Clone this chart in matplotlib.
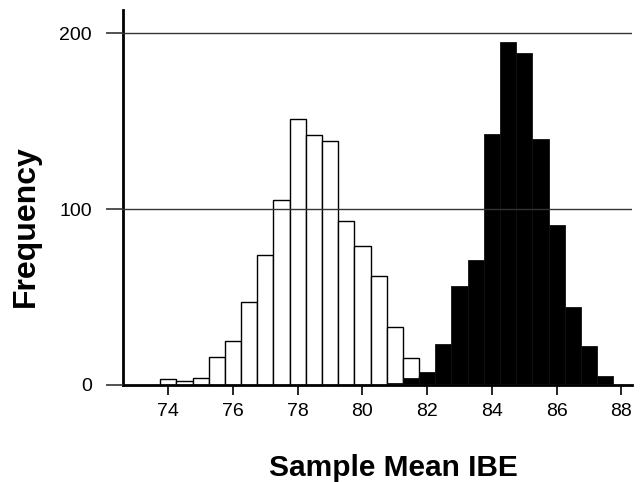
import numpy as np
import matplotlib.pyplot as plt

plt.rcParams['font.family'] = ['Liberation Sans', 'DejaVu Sans']

# histogram bins: left edges, width 0.5
bin_left = np.arange(73.75, 88.25, 0.5)
bin_width = 0.5

# open histogram (first sample)
white_counts = [3, 2, 4, 16, 25, 47, 74, 105, 151, 142, 139, 93, 79, 62, 33, 15, 5,
                0, 0, 0, 0, 0, 0, 0, 0, 0, 0, 0, 0]
# filled histogram (second sample)
black_counts = [0, 0, 0, 0, 0, 0, 0, 0, 0, 0, 0, 0, 0, 0, 1, 4, 7,
                23, 56, 71, 143, 195, 189, 140, 91, 44, 22, 5, 0]

x_ticks = [74, 76, 78, 80, 82, 84, 86, 88]
y_ticks = [0, 100, 200]

fig = plt.figure(figsize=(6.4, 4.82), dpi=100)
ax = fig.add_axes([0.1927, 0.2019, 0.7943, 0.7773])

ax.bar(bin_left, white_counts, width=bin_width, align='edge',
       facecolor='white', edgecolor='black', linewidth=1.0)
ax.bar(bin_left, black_counts, width=bin_width, align='edge',
       facecolor='black', edgecolor='#111111', linewidth=0.6)

ax.set_xlim(72.61, 88.32)
ax.set_ylim(0, 213.3)

ax.set_xticks(x_ticks)
ax.set_yticks(y_ticks)
ax.set_yticklabels([str(v) for v in y_ticks])

# horizontal rules on top of the bars
ax.set_axisbelow(False)
ax.yaxis.grid(True, color='#333333', linewidth=1.0)

for side in ['top', 'right']:
    ax.spines[side].set_visible(False)
ax.spines['left'].set_linewidth(2)
ax.spines['bottom'].set_linewidth(2)

ax.tick_params(axis='y', direction='out', length=12.5, width=1.2,
               color='#333333', labelsize=14, pad=10)
ax.tick_params(axis='x', direction='out', length=7.5, width=1.2,
               labelsize=14, pad=5.5)

# axis titles placed where the original has them
fig.text(393 / 640, 1 - 476 / 482, 'Sample Mean IBE', fontsize=21.5,
         fontweight='bold', ha='center', va='baseline')
fig.text(25.5 / 640, 1 - 226 / 482, 'Frequency', fontsize=23,
         fontweight='bold', ha='center', va='center', rotation=90)

fig.savefig('out.png', dpi=100)
